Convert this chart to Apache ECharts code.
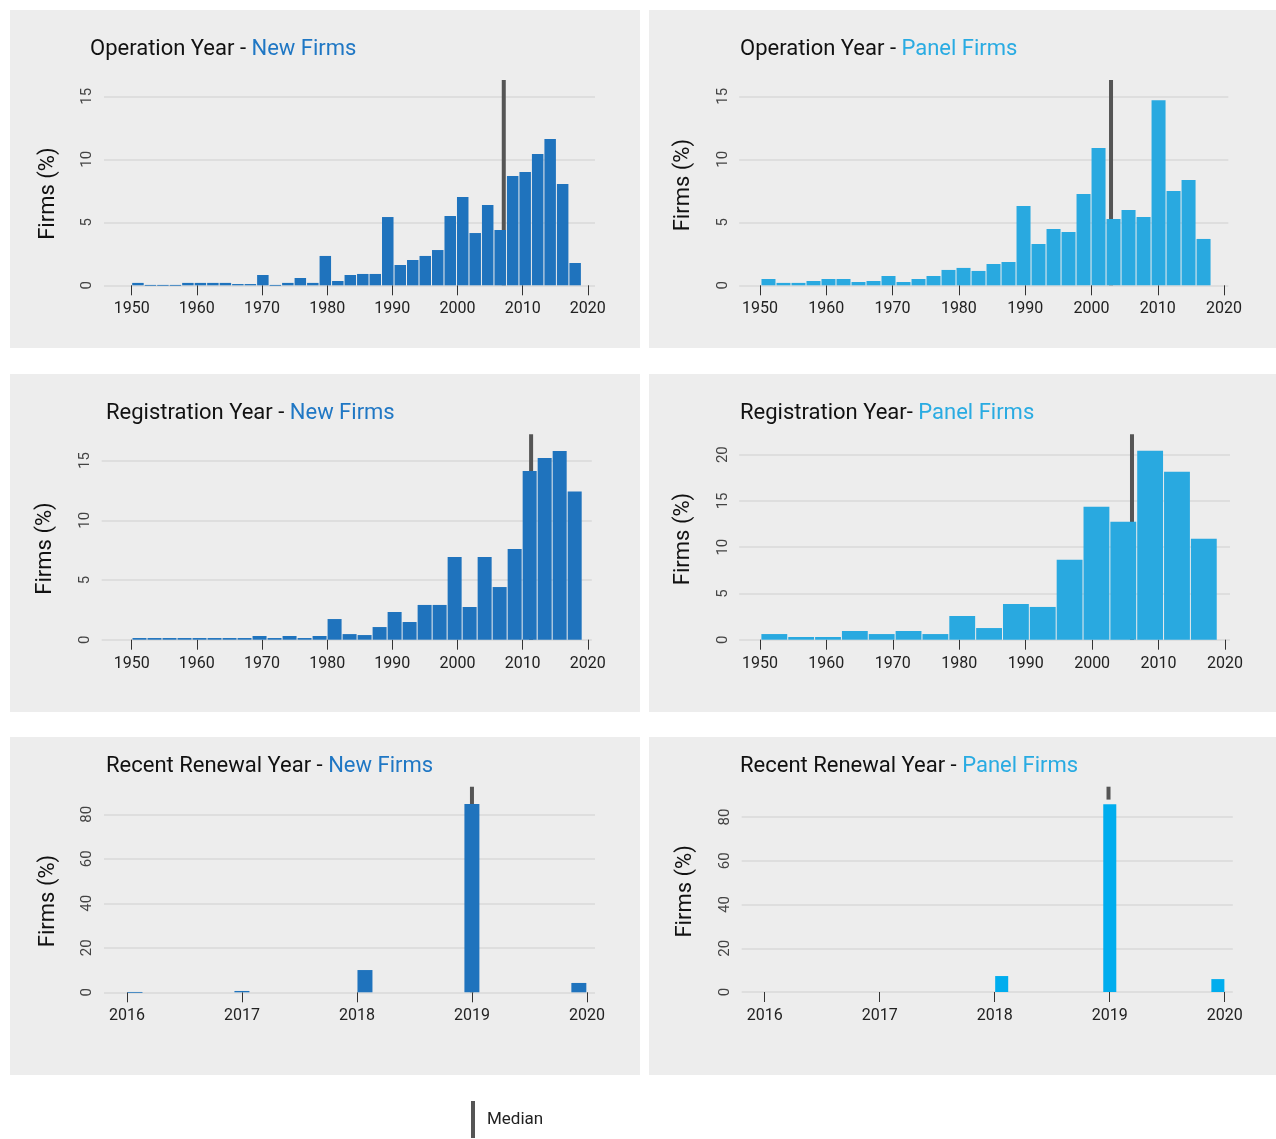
<!DOCTYPE html>
<html>
<head>
<meta charset="utf-8">
<script src="https://cdn.jsdelivr.net/npm/echarts@6/dist/echarts.min.js"></script>
<style>
  html, body { margin: 0; padding: 0; background: #ffffff; }
  #chart { width: 1276px; height: 1139px; }
</style>
</head>
<body>
<div id="chart"></div>
<script>
// ---------- data ----------
const yearTicks = [1950, 1960, 1970, 1980, 1990, 2000, 2010, 2020];
const renewTicks = [2016, 2017, 2018, 2019, 2020];

// Operation Year - New Firms (36 bins)
const opNewStart = 1950, opNewWidth = 1.917;
const opNewPct = [0.19, 0.03, 0.03, 0.03, 0.19, 0.19, 0.19, 0.19, 0.1, 0.1, 0.82, 0.03,
  0.19, 0.58, 0.19, 2.33, 0.34, 0.82, 0.9, 0.9, 5.42, 1.61, 2.01, 2.33, 2.8, 5.5, 7.01,
  4.15, 6.38, 4.39, 8.68, 9.0, 10.42, 11.61, 8.04, 1.77];
const opNewMedian = 2007.1;

// Operation Year - Panel Firms (30 bins)
const opPanelStart = 1950.15, opPanelWidth = 2.263;
const opPanelPct = [0.5, 0.19, 0.19, 0.34, 0.5, 0.5, 0.26, 0.34, 0.74, 0.26, 0.5, 0.74,
  1.22, 1.38, 1.14, 1.69, 1.85, 6.3, 3.28, 4.47, 4.23, 7.25, 10.9, 5.26, 5.98, 5.42,
  14.7, 7.49, 8.36, 3.68];
const opPanelMedian = 2002.95;

// Registration Year - New Firms (30 bins)
const regNewStart = 1950.05, regNewWidth = 2.303;
const regNewPct = [0.14, 0.14, 0.14, 0.14, 0.14, 0.14, 0.14, 0.14, 0.31, 0.14, 0.31, 0.14,
  0.31, 1.73, 0.47, 0.39, 1.06, 2.32, 1.48, 2.91, 2.91, 6.93, 2.74, 6.93, 4.41, 7.6,
  14.13, 15.22, 15.81, 12.4];
const regNewMedian = 2011.3;

// Registration Year - Panel Firms (17 bins)
const regPanelStart = 1950.15, regPanelWidth = 4.04;
const regPanelPct = [0.61, 0.29, 0.29, 0.94, 0.61, 0.94, 0.61, 2.56, 1.26, 3.86, 3.54,
  8.63, 14.37, 12.74, 20.43, 18.16, 10.9];
const regPanelMedian = 2006.0;

// Recent Renewal Year
const renNewStarts = [2016.0, 2016.93, 2018.0, 2018.93, 2019.86];
const renNewWidth = 0.139;
const renNewPct = [0.15, 0.6, 10.0, 84.6, 4.2];
const renNewMedian = 2019.0;

const renPanelStarts = [2018.0, 2018.94, 2019.88];
const renPanelWidth = 0.122;
const renPanelPct = [7.3, 85.9, 5.9];
const renPanelMedian = 2018.99;

// ---------- helpers ----------
function evenBins(start, width, pct) {
  return pct.map((v, i) => [start + i * width, start + (i + 1) * width, v]);
}
function listBins(starts, width, pct) {
  return pct.map((v, i) => [starts[i], starts[i] + width, v]);
}

const newColor = '#1f73bd';
const panelColor = '#29a9e0';
const renPanelColor = '#00adee';
const font = 'Roboto';

const panels = [
  { title: ['Operation Year - ', 'New Firms'], tc: '#1f77c4', color: newColor,
    bins: evenBins(opNewStart, opNewWidth, opNewPct), median: opNewMedian, medLo: 0,
    grid: [104, 80, 491, 205.3], x: [1945.75, 2021.1], yMax: 16.3, yTicks: [0, 5, 10, 15],
    xTicks: yearTicks, tpos: [90, 38], bg: [10, 10, 630, 338], nameShift: 22 },
  { title: ['Operation Year - ', 'Panel Firms'], tc: '#29abe2', color: panelColor,
    bins: evenBins(opPanelStart, opPanelWidth, opPanelPct), median: opPanelMedian, medLo: 0,
    grid: [739.3, 80, 489, 205.3], x: [1946.88, 2020.64], yMax: 16.3, yTicks: [0, 5, 10, 15],
    xTicks: yearTicks, tpos: [740, 38], bg: [649, 10, 627, 338], nameShift: 5 },
  { title: ['Registration Year - ', 'New Firms'], tc: '#1f77c4', color: newColor,
    bins: evenBins(regNewStart, regNewWidth, regNewPct), median: regNewMedian, medLo: 0,
    grid: [101.7, 434.3, 490, 205.4], x: [1945.4, 2020.6], yMax: 17.2, yTicks: [0, 5, 10, 15],
    xTicks: yearTicks, tpos: [106, 402], bg: [10, 374, 630, 338], nameShift: 23 },
  { title: ['Registration Year- ', 'Panel Firms'], tc: '#29abe2', color: panelColor,
    bins: evenBins(regPanelStart, regPanelWidth, regPanelPct), median: regPanelMedian, medLo: 0,
    grid: [739.3, 434.3, 490.7, 205.4], x: [1946.9, 2020.75], yMax: 22.2, yTicks: [0, 5, 10, 15, 20],
    xTicks: yearTicks, tpos: [740, 402], bg: [649, 374, 627, 338], nameShift: 4 },
  { title: ['Recent Renewal Year - ', 'New Firms'], tc: '#1f77c4', color: newColor,
    bins: listBins(renNewStarts, renNewWidth, renNewPct), median: renNewMedian, medLo: 0,
    grid: [104, 786.7, 491, 205.6], x: [2015.8, 2020.07], yMax: 92.4, yTicks: [0, 20, 40, 60, 80],
    xTicks: renewTicks, tpos: [106, 755], bg: [10, 737, 630, 338], nameShift: 23 },
  { title: ['Recent Renewal Year - ', 'Panel Firms'], tc: '#29abe2', color: renPanelColor,
    bins: listBins(renPanelStarts, renPanelWidth, renPanelPct), median: renPanelMedian, medLo: 88,
    grid: [741.7, 786.7, 491, 205.3], x: [2015.8, 2020.07], yMax: 93.9, yTicks: [0, 20, 40, 60, 80],
    xTicks: renewTicks, tpos: [740, 755], bg: [649, 737, 627, 338], nameShift: 4 }
];

function renderBar(params, api) {
  const a = api.coord([api.value(0), api.value(2)]);
  const b = api.coord([api.value(1), 0]);
  return {
    type: 'rect',
    shape: { x: a[0] + 0.5, y: a[1], width: b[0] - a[0] - 1, height: Math.max(b[1] - a[1], 0.8) },
    style: { fill: api.visual('color') }
  };
}
function renderMedian(params, api) {
  const top = api.coord([api.value(0), api.value(2)]);
  const bot = api.coord([api.value(0), api.value(1)]);
  return {
    type: 'rect',
    shape: { x: top[0] - 2, y: top[1], width: 4, height: bot[1] - top[1] },
    style: { fill: api.visual('color') }
  };
}

const grids = [], xAxes = [], yAxes = [], series = [], titles = [], graphics = [];
panels.forEach((p, i) => {
  graphics.push({ type: 'rect', z: -100, silent: true,
    shape: { x: p.bg[0], y: p.bg[1], width: p.bg[2], height: p.bg[3] },
    style: { fill: '#ededed' } });
  titles.push({
    text: '{a|' + p.title[0] + '}{b|' + p.title[1] + '}',
    left: p.tpos[0], top: p.tpos[1], padding: 0,
    textStyle: { fontWeight: 'normal', rich: {
      a: { fontFamily: font, fontSize: 22, fontWeight: 'normal', color: '#111111' },
      b: { fontFamily: font, fontSize: 22, fontWeight: 'normal', color: p.tc }
    } }
  });
  grids.push({ left: p.grid[0], top: p.grid[1], width: p.grid[2], height: p.grid[3] });
  xAxes.push({
    gridIndex: i, type: 'value', min: p.x[0], max: p.x[1],
    axisLine: { show: false },
    axisTick: { show: true, customValues: p.xTicks, length: 10, lineStyle: { color: '#333333', width: 1 } },
    axisLabel: { customValues: p.xTicks, margin: 16, fontSize: 16, color: '#222222', fontFamily: font,
      formatter: v => String(v) },
    splitLine: { show: false }
  });
  yAxes.push({
    gridIndex: i, type: 'value', min: 0, max: p.yMax,
    axisLine: { show: false },
    axisTick: { show: false, customValues: p.yTicks },
    axisLabel: { customValues: p.yTicks, rotate: 90, margin: 9, fontSize: 15, color: '#444444', fontFamily: font },
    splitLine: { show: true, lineStyle: { color: '#d8d8d8', width: 1.5 } },
    name: 'Firms (%)', nameLocation: 'middle', nameGap: 45,
    nameTextStyle: { fontSize: 22, color: '#111111', fontFamily: font, padding: [0, p.nameShift, 0, 0] }
  });
  series.push({
    name: 'Median', type: 'custom', xAxisIndex: i, yAxisIndex: i, z: 1,
    itemStyle: { color: '#555555' }, renderItem: renderMedian,
    data: [[p.median, p.medLo, p.yMax]], silent: true
  });
  series.push({
    name: p.title.join(''), type: 'custom', xAxisIndex: i, yAxisIndex: i, z: 2,
    itemStyle: { color: p.color }, renderItem: renderBar,
    data: p.bins, silent: true
  });
});

const chart = echarts.init(document.getElementById('chart'));
chart.setOption({
  backgroundColor: '#ffffff',
  animation: false,
  textStyle: { fontFamily: font },
  title: titles,
  grid: grids,
  xAxis: xAxes,
  yAxis: yAxes,
  graphic: { elements: graphics },
  legend: {
    data: ['Median'], left: 471, top: 1101, padding: 0,
    icon: 'rect', itemWidth: 4, itemHeight: 37,
    textStyle: { fontSize: 17, color: '#222222', fontFamily: font, padding: [0, 0, 0, 7] }
  },
  series: series
});
</script>
</body>
</html>
